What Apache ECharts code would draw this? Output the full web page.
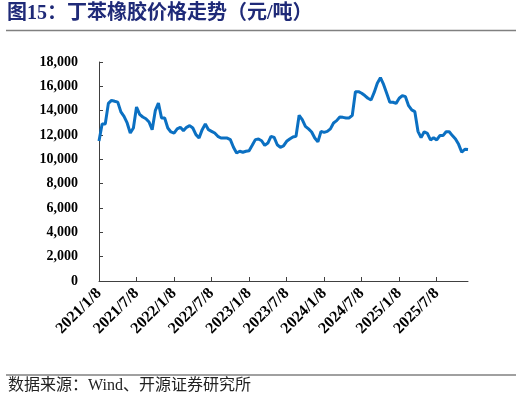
<!DOCTYPE html>
<html lang="zh">
<head>
    <meta charset="UTF-8">
    <title>丁苯橡胶价格走势</title>
    <style>
        html, body { margin: 0; padding: 0; background: #fff; }
    </style>
</head>
<body>
<div id="main" style="width:522px;height:404px;"></div>
<script src="https://cdn.jsdelivr.net/npm/echarts@6/dist/echarts.min.js"></script>
<script>
    // tick labels shown on the x axis (every half year)
    var tickLabels = ['2021/1/8', '2021/7/8', '2022/1/8', '2022/7/8', '2023/1/8',
        '2023/7/8', '2024/1/8', '2024/7/8', '2025/1/8', '2025/7/8'];

    // half-monthly dates, 2021/1/8 .. 2025/12/8
    var dates = [];
    for (var y = 2021; y <= 2025; y++) {
        for (var m = 1; m <= 12; m++) {
            dates.push(y + '/' + m + '/8');
            if (y === 2025 && m === 12) break;
            dates.push(y + '/' + m + '/23');
        }
    }

    // 元/吨
    var prices = [
        11500, 12900, 12900, 14600, 14850, 14770, 14700, 13900, 13530, 12990,
        12160, 12575, 14300, 13700, 13480, 13340, 13070, 12440, 14000, 14630,
        13400, 13400, 12575, 12250, 12160, 12500, 12630, 12360, 12630, 12770,
        12575, 12030, 11750, 12440, 12900, 12440, 12300, 12160, 11890, 11750,
        11750, 11750, 11620, 10990, 10520, 10660, 10580, 10660, 10710, 11150,
        11620, 11670, 11530, 11150, 11340, 11890, 11800, 11200, 10990, 11100,
        11480, 11670, 11840, 11890, 13620, 13260, 12710, 12500, 12250, 11750,
        11430, 12300, 12220, 12300, 12500, 12990, 13180, 13480, 13450, 13400,
        13400, 13620, 15560, 15560, 15430, 15240, 15020, 14880, 15500, 16250,
        16710, 16160, 15430, 14690, 14690, 14600, 15020, 15240, 15150, 14410,
        14060, 13920, 12300, 11780, 12270, 12140, 11590, 11780, 11590, 11950,
        11950, 12270, 12270, 11950, 11670, 11230, 10580, 10830, 10800
    ];

    var serif = '"Liberation Serif", "Times New Roman", serif';
    var showTick = function (index, value) {
        return tickLabels.indexOf(value) >= 0;
    };

    var myChart = echarts.init(document.getElementById('main'));
    var option = {
        backgroundColor: '#ffffff',
        animation: false,
        grid: {
            left: 99,
            right: 54,
            top: 62,
            bottom: 123
        },
        graphic: [
            {
                type: 'text',
                left: 7,
                top: 4,
                style: {
                    text: '图15：丁苯橡胶价格走势（元/吨）',
                    fontFamily: '"Liberation Serif", "Noto Sans CJK SC", serif',
                    fontWeight: 'bold',
                    fontSize: 20,
                    fill: '#1f2a78'
                }
            },
            {
                type: 'line',
                shape: {x1: 6, y1: 30.5, x2: 516, y2: 30.5},
                style: {stroke: '#808080', lineWidth: 1.5}
            },
            {
                type: 'line',
                shape: {x1: 6, y1: 375, x2: 516, y2: 375},
                style: {stroke: '#808080', lineWidth: 1.5}
            },
            {
                type: 'text',
                left: 8,
                top: 378,
                style: {
                    text: '数据来源：Wind、开源证券研究所',
                    fontFamily: '"Liberation Serif", "Noto Sans CJK SC", serif',
                    fontSize: 16,
                    fill: '#222222'
                }
            }
        ],
        xAxis: {
            type: 'category',
            data: dates,
            boundaryGap: false,
            axisLine: {
                lineStyle: {color: '#404040', width: 1}
            },
            axisTick: {
                inside: true,
                length: 4,
                interval: showTick,
                lineStyle: {color: '#404040'}
            },
            axisLabel: {
                interval: showTick,
                rotate: 45,
                margin: 10,
                color: '#000',
                fontFamily: serif,
                fontWeight: 'bold',
                fontSize: 16
            },
            splitLine: {show: false}
        },
        yAxis: {
            type: 'value',
            min: 0,
            max: 18000,
            interval: 2000,
            axisLine: {
                show: true,
                lineStyle: {color: '#404040', width: 1}
            },
            axisTick: {
                show: true,
                inside: true,
                length: 4,
                lineStyle: {color: '#404040'}
            },
            axisLabel: {
                margin: 21,
                color: '#000',
                fontFamily: serif,
                fontWeight: 'bold',
                fontSize: 14,
                formatter: function (v) {
                    return v.toLocaleString('en-US');
                }
            },
            splitLine: {show: false}
        },
        series: [
            {
                name: '丁苯橡胶',
                type: 'line',
                data: prices,
                symbol: 'none',
                smooth: false,
                lineStyle: {
                    color: '#0b70c2',
                    width: 3
                }
            }
        ]
    };
    myChart.setOption(option);
</script>
</body>
</html>
